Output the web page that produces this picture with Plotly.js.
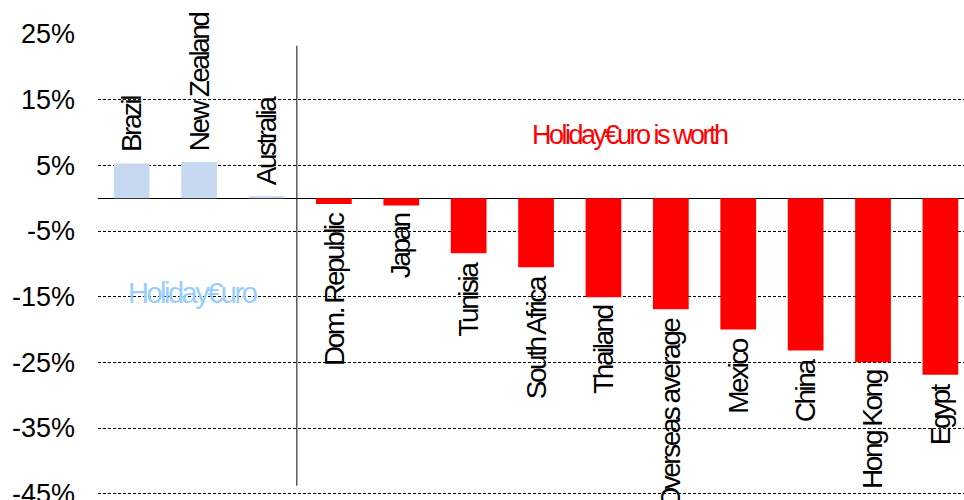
<!DOCTYPE html>
<html>
<head>
<meta charset="utf-8">
<script src="https://cdn.plot.ly/plotly-3.0.1.min.js"></script>
<style>
html,body{margin:0;padding:0;background:#fff;}
#chart{width:964px;height:500px;}
text.annotation-text{letter-spacing:-2.5px;}
</style>
</head>
<body>
<div id="chart"></div>
<script>
var categories = ["Brazil","New Zealand","Australia","Dom. Republic","Japan","Tunisia","South Africa","Thailand","Overseas average","Mexico","China","Hong Kong","Egypt"];
var values = [5.3, 5.5, 0.3, -0.9, -1.1, -8.4, -10.5, -15.1, -16.9, -20.0, -23.2, -25.0, -26.9];
var tickValues = [25, 15, 5, -5, -15, -25, -35, -45];
var tickLabels = ["25%","15%","5%","-5%","-15%","-25%","-35%","-45%"];

var FONT = "Liberation Sans, Arial, sans-serif";
var xs = categories.map(function(c, i){ return i; });
var colors = values.map(function(v){ return v >= 0 ? "#C6D9F1" : "#FF0000"; });

var trace = {
  type: "bar",
  x: xs,
  y: values,
  marker: {color: colors, line: {width: 0}},
  hoverinfo: "skip"
};

var annotations = categories.map(function(c, i){
  var v = values[i];
  return {
    x: i, y: v, xref: "x", yref: "y",
    text: c, showarrow: false, textangle: -90,
    xanchor: "center", yanchor: v >= 0 ? "bottom" : "top",
    yshift: v >= 0 ? 9 : -6,
    font: {family: FONT, size: 28, color: "#000"}
  };
});
annotations.push({
  xref: "paper", yref: "paper", x: (630-98)/866, y: (497-135)/463,
  text: "Holiday€uro is worth", showarrow: false,
  xanchor: "center", yanchor: "middle",
  font: {family: FONT, size: 27, color: "#FF0000"}
});
annotations.push({
  xref: "paper", yref: "paper", x: (192-98)/866, y: (497-293)/463,
  text: "Holiday€uro", showarrow: false,
  xanchor: "center", yanchor: "middle",
  font: {family: FONT, size: 29, color: "#99CCFF"}
});

var layout = {
  width: 964, height: 500,
  margin: {l: 98, r: 0, t: 34, b: 3, pad: 0},
  paper_bgcolor: "#fff", plot_bgcolor: "#fff",
  showlegend: false,
  bargap: 0.47,
  xaxis: {
    type: "linear", range: [-0.5, 12.35],
    showticklabels: false, showgrid: false, zeroline: false, showline: false, ticks: ""
  },
  yaxis: {
    range: [-45.5, 25],
    tickmode: "array", tickvals: tickValues, ticktext: tickLabels,
    tickfont: {family: FONT, size: 27, color: "#000"},
    ticklabelstandoff: 22,
    ticklabeloverflow: "allow",
    showgrid: true, gridcolor: "#000", gridwidth: 1, griddash: "3px,2px",
    zeroline: true, zerolinecolor: "#000", zerolinewidth: 1.2,
    showline: false, ticks: ""
  },
  shapes: [{
    type: "line", xref: "x", yref: "y",
    x0: 2.45, x1: 2.45, y0: -43.8, y1: 23.2,
    line: {color: "#333", width: 1.2}
  }],
  annotations: annotations
};

Plotly.newPlot("chart", [trace], layout, {displayModeBar: false, staticPlot: true});
</script>
</body>
</html>
